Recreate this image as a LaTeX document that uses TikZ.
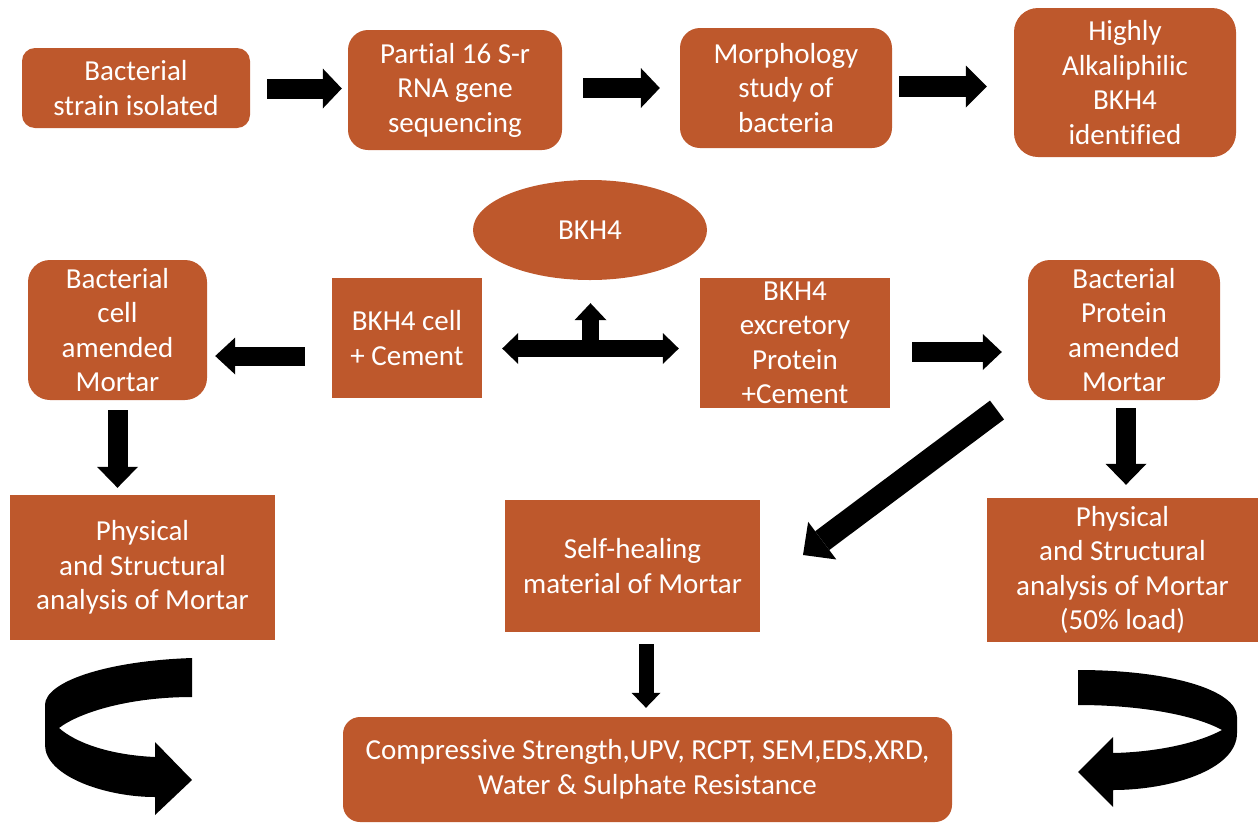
\documentclass[tikz,border=0pt]{standalone}
\usepackage{fontspec}
\setmainfont{Carlito}[Ligatures=NoCommon]
\usetikzlibrary{arrows.meta,shapes.geometric}
\definecolor{rust}{RGB}{190,88,44}
\tikzset{
  box/.style={fill=rust, text=white, align=center, inner sep=0pt,
    font=\fontsize{29}{34.5}\selectfont},
  blk/.style n args={3}{line width=#1, draw=black,
    -{Triangle[width=#2,length=#3,line width=0pt]}},
  dblk/.style n args={3}{line width=#1, draw=black,
    {Triangle[width=#2,length=#3,line width=0pt]}-{Triangle[width=#2,length=#3,line width=0pt]}},
}
\begin{document}
\begin{tikzpicture}[x=1pt,y=-1pt]
\useasboundingbox (0,0) rectangle (1260,825);

% top row
\node[box, rounded corners=13pt, minimum width=228pt, minimum height=80pt] (b1) at (136,88) {Bacterial\\strain isolated};
\node[box, rounded corners=20pt, minimum width=214pt, minimum height=120pt] (b2) at (455,90) {Partial 16 S-r\\RNA gene\\sequencing};
\node[box, rounded corners=20pt, minimum width=212pt, minimum height=120pt] (b3) at (786,88) {Morphology\\study of\\bacteria};
\node[box, rounded corners=24pt, minimum width=222pt, minimum height=149pt] (b4) at (1125,82.5) {Highly\\Alkaliphilic\\BKH4\\identified};

% middle row
\node[box, ellipse, minimum width=234pt, minimum height=100pt] (ell) at (590,230) {BKH4};
\node[box, rounded corners=22pt, minimum width=179pt, minimum height=140pt] (lm) at (117.5,330) {Bacterial\\cell\\amended\\Mortar};
\node[box, minimum width=150pt, minimum height=120pt] (cc) at (407,338) {BKH4 cell\\+ Cement};
\node[box, minimum width=190pt, minimum height=130pt] (ep) at (795,343) {BKH4\\excretory\\Protein\\+Cement};
\node[box, rounded corners=22pt, minimum width=192pt, minimum height=140pt] (rm) at (1124,330) {Bacterial\\Protein\\amended\\Mortar};

% third row
\node[box, minimum width=265pt, minimum height=145pt] (lp) at (142.5,567.5) {Physical\\and Structural\\analysis of Mortar};
\node[box, minimum width=255pt, minimum height=132pt] (sh) at (632.5,566) {Self-healing\\material of Mortar};
\node[box, minimum width=271pt, minimum height=144pt] (rp) at (1122.5,570) {Physical\\and Structural\\analysis of Mortar\\(50\% load)};

% bottom
\node[box, rounded corners=17pt, minimum width=609pt, minimum height=105pt] (bt) at (647.5,769.5) {Compressive Strength,UPV, RCPT, SEM,EDS,XRD,\\Water \& Sulphate Resistance};

% top row arrows
\draw[blk={20pt}{40pt}{19pt}] ([xshift=17pt]b1.east |- 0,88.5) -- ([xshift=-6pt]b2.west |- 0,88.5);
\draw[blk={20pt}{40pt}{19pt}] ([xshift=21pt]b2.east |- 0,88) -- ([xshift=-20pt]b3.west |- 0,88);
\draw[blk={21pt}{42pt}{21pt}] ([xshift=7pt]b3.east |- 0,86.5) -- ([xshift=-27pt]b4.west |- 0,86.5);

% middle row arrows
\draw[blk={19pt}{37pt}{20pt}] ([xshift=-27pt]cc.west |- 0,356) -- ([xshift=8pt]lm.east |- 0,356);
\draw[blk={20pt}{36pt}{19pt}] ([xshift=22pt]ep.east |- 0,352) -- ([xshift=-26pt]rm.west |- 0,352);
\coordinate (tj) at (590.5,348.5);
\draw[dblk={17pt}{31pt}{16pt}] ([xshift=20pt]cc.east |- tj) -- ([xshift=-21pt]ep.west |- tj);
\draw[blk={17pt}{32pt}{17pt}] (tj) -- ([yshift=-23pt]ell.south -| tj);

% down arrows
\draw[blk={20pt}{41pt}{21pt}] ([yshift=-10pt]lm.south) -- ([yshift=7pt]lp.north -| lm.south);
\draw[blk={20pt}{41pt}{21pt}] ([xshift=2pt,yshift=-8pt]rm.south) -- ([yshift=13pt]rp.north -| 1126,0);
\draw[blk={15pt}{29pt}{15pt}] ([xshift=13.5pt,yshift=-12pt]sh.south) -- ([yshift=9pt]bt.north -| 646,0);

% diagonal arrow
\coordinate (d1) at (997,410);
\coordinate (d2) at (803,555);
\draw[blk={23.5pt}{47pt}{24pt}] (d1) -- (d2);

% curved arrows
\fill[black] (192,658) .. controls (105,661) and (45,682) .. (45,705) -- (45,745)
  .. controls (45,776) and (105,797) .. (155,797) -- (155,815) -- (192,780) -- (155,742) -- (155,757)
  .. controls (110,755) and (76,743) .. (59,728)
  .. controls (80,712) and (130,697) .. (192,697) -- cycle;
\fill[black] (1078,670) .. controls (1170,670) and (1237,690) .. (1237,717) -- (1237,733)
  .. controls (1237,770) and (1170,790) .. (1113,790) -- (1113,807) -- (1078,772) -- (1113,737) -- (1113,753)
  .. controls (1160,752) and (1200,742) .. (1222,730)
  .. controls (1195,715) and (1140,705) .. (1078,705) -- cycle;
\end{tikzpicture}
\end{document}
